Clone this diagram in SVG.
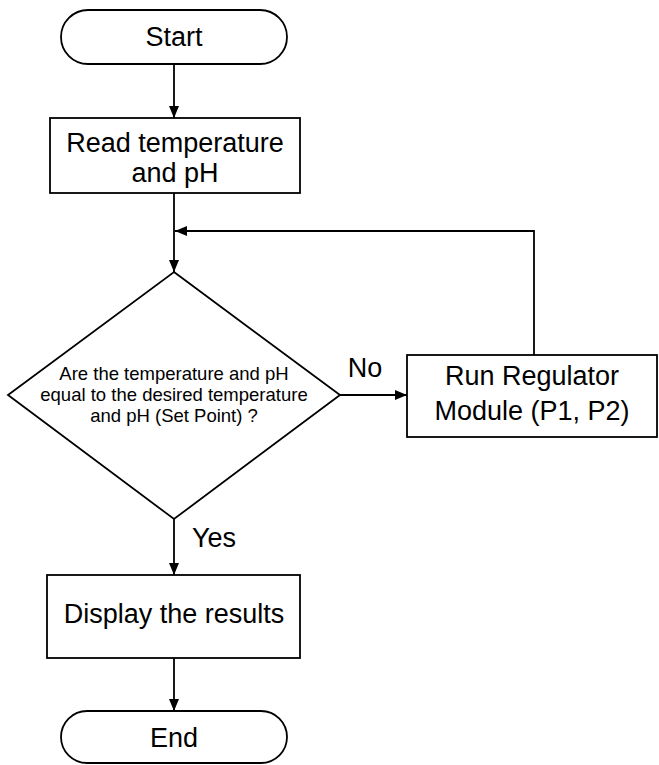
<svg xmlns="http://www.w3.org/2000/svg" width="659" height="765" viewBox="0 0 659 765">
<defs>
<marker id="arr" viewBox="0 0 12 10" refX="12" refY="5" markerWidth="12" markerHeight="10" markerUnits="userSpaceOnUse" orient="auto">
<path d="M0,0 L12,5 L0,10 z" fill="#000"/>
</marker>
<style>
.shape{fill:#fff;stroke:#000;stroke-width:1.8}
.t{font-family:"Liberation Sans",Arial,sans-serif;font-size:27px;fill:#000;text-anchor:middle}
.s{font-family:"Liberation Sans",Arial,sans-serif;font-size:18.5px;fill:#000;text-anchor:middle}
.c{fill:none;stroke:#000;stroke-width:1.8}
</style>
</defs>
<rect width="659" height="765" fill="#fff"/>
<g id="connectors">
<path class="c" d="M174,64 V118" marker-end="url(#arr)"/>
<path class="c" d="M174,193 V272" marker-end="url(#arr)"/>
<path class="c" d="M534,355 V231 H175" marker-end="url(#arr)"/>
<path class="c" d="M340,395 H407" marker-end="url(#arr)"/>
<path class="c" d="M174,519 V575" marker-end="url(#arr)"/>
<path class="c" d="M174,658 V711" marker-end="url(#arr)"/>
<text class="t" x="365" y="377">No</text>
<text class="t" x="214" y="547">Yes</text>
</g>
<g id="start">
<rect class="shape" x="61" y="10" width="226" height="54" rx="27"/>
<text class="t" x="174" y="46">Start</text>
</g>
<g id="read">
<rect class="shape" x="50" y="118" width="250" height="75"/>
<text class="t" x="175" y="152">Read temperature</text>
<text class="t" x="175" y="182">and pH</text>
</g>
<g id="decision">
<polygon class="shape" points="174,272 340,395 174,519 8,395"/>
<text class="s" x="174" y="380">Are the temperature and pH</text>
<text class="s" x="174" y="401">equal to the desired temperature</text>
<text class="s" x="174" y="422">and pH (Set Point) ?</text>
</g>
<g id="regulator">
<rect class="shape" x="407" y="355" width="250" height="82"/>
<text class="t" x="532" y="385">Run Regulator</text>
<text class="t" x="532" y="420">Module (P1, P2)</text>
</g>
<g id="display">
<rect class="shape" x="47" y="575" width="253" height="83"/>
<text class="t" x="174" y="623">Display the results</text>
</g>
<g id="end">
<rect class="shape" x="61" y="711" width="226" height="52" rx="26"/>
<text class="t" x="174" y="747">End</text>
</g>
</svg>
